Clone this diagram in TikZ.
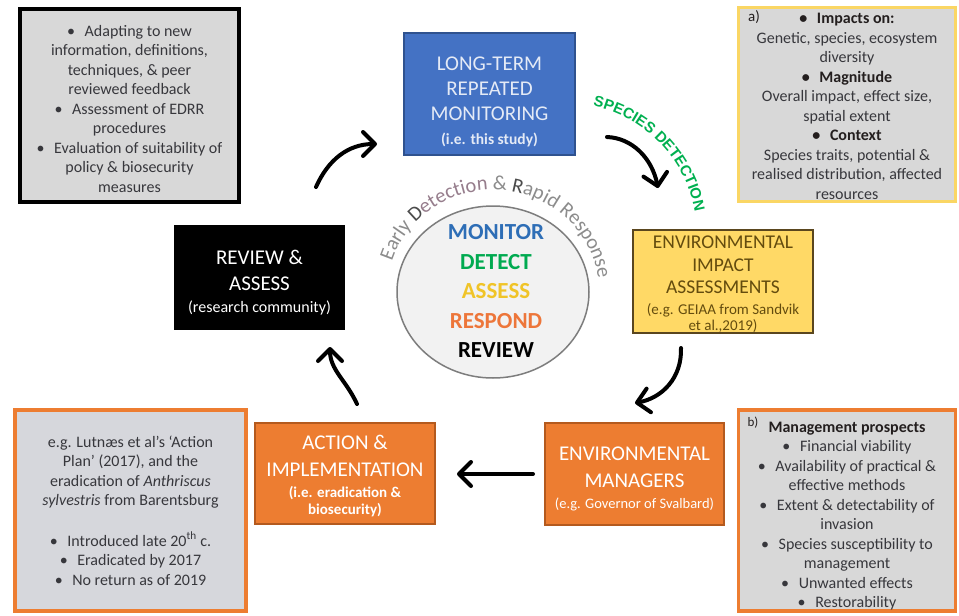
\documentclass[tikz,border=0pt]{standalone}
\usepackage{fontspec}
\setmainfont{Carlito}
\newfontfamily\roundfont{Liberation Sans}
\usetikzlibrary{arrows.meta,shapes.geometric,decorations.text}

\definecolor{sidefill}{RGB}{216,216,216}
\definecolor{blfill}{RGB}{214,215,220}
\definecolor{yelbord}{RGB}{250,214,100}
\definecolor{orbord}{RGB}{237,125,49}
\definecolor{bluefill}{RGB}{68,114,196}
\definecolor{blueedge}{RGB}{47,82,143}
\definecolor{bluetext}{RGB}{228,234,246}
\definecolor{eiafill}{RGB}{255,217,102}
\definecolor{eiaedge}{RGB}{90,70,30}
\definecolor{eiatext}{RGB}{100,76,14}
\definecolor{orfill}{RGB}{237,125,49}
\definecolor{oredge}{RGB}{180,90,30}
\definecolor{monblue}{RGB}{46,110,182}
\definecolor{detgreen}{RGB}{0,170,80}
\definecolor{assessgold}{RGB}{240,196,40}
\definecolor{resporange}{RGB}{237,118,58}
\definecolor{circfill}{RGB}{242,242,242}
\definecolor{circedge}{RGB}{125,125,125}
\definecolor{arcgrey}{RGB}{140,140,140}
\definecolor{arcdark}{RGB}{75,75,75}
\definecolor{arcmauve}{RGB}{150,125,140}
\definecolor{spgreen}{RGB}{0,176,80}
\definecolor{boxtext}{RGB}{55,55,60}
\definecolor{headtext}{RGB}{35,30,30}

\newcommand\arcfa{\fontsize{20.5}{20.5}\selectfont\color{arcgrey}}
\newcommand\arcfb{\fontsize{20.5}{20.5}\selectfont\color{arcdark}}
\newcommand\arcfc{\fontsize{20.5}{20.5}\selectfont\color{arcmauve}}
\newcommand\spf{\roundfont\bfseries\fontsize{15}{15}\selectfont\color{spgreen}}
\newcommand\bul{\textbullet\hspace{0.6em}}

\begin{document}
\begin{tikzpicture}[x=1pt,y=1pt,
  sidebox/.style={draw, line width=3.5pt, fill=sidefill, align=center, inner sep=0pt,
    text=boxtext, font=\fontsize{16}{19.5}\selectfont},
  stagebox/.style={draw, line width=1.2pt, align=center, inner sep=0pt,
    font=\fontsize{21}{27}\selectfont},
  flow/.style={line width=4pt, line cap=round, -{Straight Barb[length=12pt,width=24pt,round]}},
]
\useasboundingbox (0,0) rectangle (959,-616);
\fill[white] (0,0) rectangle (959,-616);

% ---- side boxes
\node[sidebox, draw=black, minimum width=219pt, minimum height=193pt] (feedback) at (129.5,-105.5)
  {\rule{0pt}{18pt}\bul Adapting to new\\ information, definitions,\\ techniques, \& peer\\ reviewed feedback\\
   \bul Assessment of EDRR\\ procedures\\ \bul Evaluation of suitability of\\ policy \& biosecurity\\ measures};

\node[sidebox, draw=yelbord, minimum width=217pt, minimum height=194pt] (impacts) at (847,-104.5)
  {\rule{0pt}{14pt}\textbf{\color{headtext}\bul Impacts on:}\\ Genetic, species, ecosystem\\ diversity\\
   \textbf{\color{headtext}\bul Magnitude}\\ Overall impact, effect size,\\ spatial extent\\
   \textbf{\color{headtext}\bul Context}\\ Species traits, potential \&\\ realised distribution, affected\\ resources};
\node[text=headtext, font=\fontsize{15}{15}\selectfont, inner sep=0pt] (lbla) at (754,-17) {a)};

\node[sidebox, draw=orbord, minimum width=217pt, minimum height=201pt] (prospects) at (847,-510.5)
  {\rule{0pt}{22pt}\textbf{\color{headtext}Management prospects}\\ \bul Financial viability\\ \bul Availability of practical \&\\ effective methods\\
   \bul Extent \& detectability of\\ invasion\\ \bul Species susceptibility to\\ management\\
   \bul Unwanted effects\\ \bul Restorability};
\node[text=headtext, font=\fontsize{13}{13}\selectfont, inner sep=0pt] (lblb) at (753,-423) {b)};

\node[sidebox, draw=orbord, fill=blfill, minimum width=231pt, minimum height=201pt] (example) at (130.5,-510.5)
  {e.g. Lutnæs et al’s ‘Action\\ Plan’ (2017), and the\\ eradication of \textit{Anthriscus}\\
   \textit{sylvestris} from Barentsburg\\[21pt]
   \bul Introduced late 20\textsuperscript{th} c.\\ \bul Eradicated by 2017\\ \bul No return as of 2019};

% ---- stage boxes
\node[stagebox, draw=blueedge, fill=bluefill, text=bluetext, font=\fontsize{21}{25}\selectfont,
      minimum width=171pt, minimum height=122pt] (monitor) at (489.5,-94)
  {\rule{0pt}{30pt}LONG-TERM\\ REPEATED\\ MONITORING\\[-1pt]
   {\bfseries\fontsize{15.5}{17}\selectfont (i.e. this study)}};

\node[stagebox, draw=black, fill=black, text=white, font=\fontsize{21}{26}\selectfont,
      minimum width=169pt, minimum height=103pt] (review) at (259.5,-277.5)
  {\rule{0pt}{24.5pt}REVIEW \&\\ ASSESS\\[-4pt] {\fontsize{16}{17}\selectfont (research community)}};

\node[stagebox, draw=eiaedge, fill=eiafill, text=eiatext, font=\fontsize{19.5}{22.5}\selectfont,
      minimum width=180pt, minimum height=103pt] (eia) at (723,-281.5)
  {\rule{0pt}{19pt}ENVIRONMENTAL\\ IMPACT\\ ASSESSMENTS\\[-2pt]
   {\fontsize{15}{17}\selectfont (e.g. GEIAA from Sandvik}\\[-6pt] {\fontsize{15}{17}\selectfont et al.,2019)}};

\node[stagebox, draw=oredge, fill=orfill, text=white,
      minimum width=180pt, minimum height=101pt] (action) at (345,-473.5)
  {\rule{0pt}{20pt}ACTION \&\\ IMPLEMENTATION\\[-6pt]
   {\bfseries\fontsize{15}{17}\selectfont (i.e. eradication \&}\\[-10pt] {\bfseries\fontsize{15}{17}\selectfont biosecurity)}};

\node[stagebox, draw=oredge, fill=orfill, text=white,
      minimum width=179pt, minimum height=102pt] (managers) at (634.5,-474)
  {\rule{0pt}{22.5pt}ENVIRONMENTAL\\ MANAGERS\\[-6pt] {\fontsize{14.5}{17}\selectfont (e.g. Governor of Svalbard)}};

% ---- centre
\node[ellipse, draw=circedge, line width=1.5pt, fill=circfill,
      minimum width=192pt, minimum height=172pt, inner sep=0pt] (core) at (493,-292) {};
\node[align=center, inner sep=0pt, font=\bfseries\fontsize{23}{29.5}\selectfont] (corewords) at (496,-291)
  {{\color{monblue}MONITOR}\\ {\color{detgreen}DETECT}\\ {\color{assessgold}ASSESS}\\
   {\color{resporange}RESPOND}\\ {\color{black}REVIEW}};

\path[decorate, decoration={text along path, text align=center,
   text={|\arcfa|Early |\arcfb|D|\arcfc|etection |\arcfa|{\&} |\arcfb|R|\arcfa|apid Response}}]
  (493,-292) ++(170:106 and 102) arc[start angle=170, end angle=0, x radius=106, y radius=102];

\path[decorate, decoration={text along path, text align=center,
   text={|\spf|SPECIES DETECTION}}]
  (565,-235) ++(84:132) arc[start angle=84, end angle=4, radius=132];

% ---- connectors
\coordinate (r2m-s) at (316,-187); \coordinate (r2m-e) at (377,-144);
\coordinate (m2e-s) at (607,-137); \coordinate (m2e-e) at (658,-188);
\coordinate (e2g-s) at (681,-348); \coordinate (e2g-e) at (635,-403);
\coordinate (g2a-s) at (533,-474); \coordinate (g2a-e) at (457,-474);
\coordinate (a2r-s) at (357,-404); \coordinate (a2r-e) at (330,-347);

\draw[flow] (r2m-s) .. controls (328,-160) and (348,-144) .. (r2m-e);
\draw[flow] (m2e-s) .. controls (632,-138) and (652,-158) .. (m2e-e);
\draw[flow] (e2g-s) .. controls (682,-378) and (662,-398) .. (e2g-e);
\draw[flow] (g2a-s) -- (g2a-e);
\draw[flow] (a2r-s) .. controls (346,-380) and (330,-370) .. (a2r-e);
\end{tikzpicture}
\end{document}
